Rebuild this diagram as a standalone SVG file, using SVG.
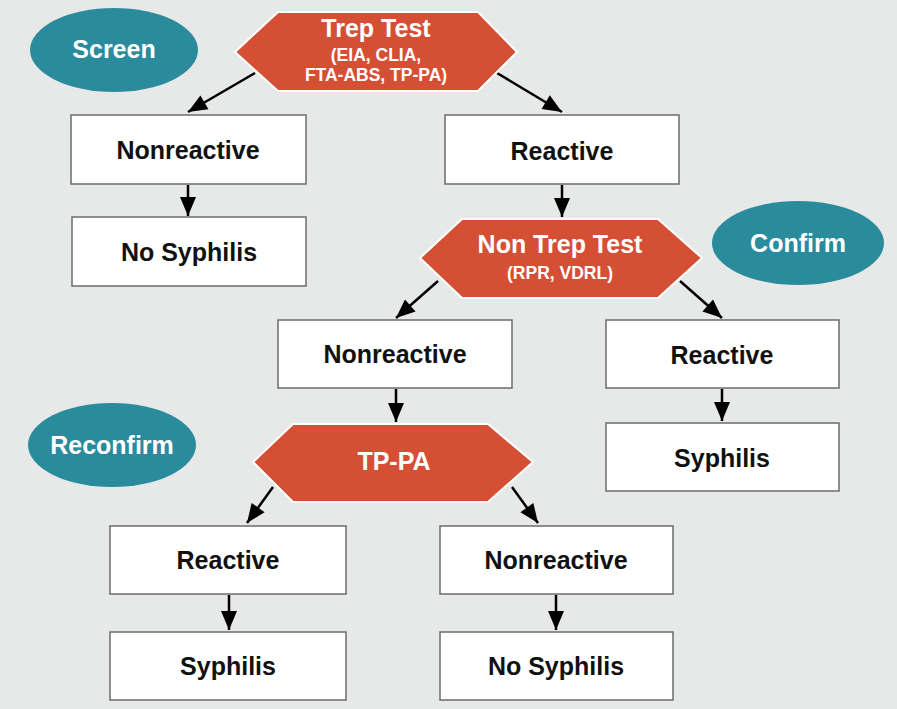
<svg xmlns="http://www.w3.org/2000/svg" width="897" height="709" viewBox="0 0 897 709">
<style>
.bg{fill:#e7e8e8}
.hex{fill:#d54f35;stroke:#ffffff;stroke-width:2}
.ell{fill:#2a8b9d}
.box{fill:#ffffff;stroke:#6b6b6b;stroke-width:1.5}
.wt{fill:#ffffff;font-family:"Liberation Sans",Arial,sans-serif;font-weight:bold;text-anchor:middle}
.bt{fill:#111111;font-family:"Liberation Sans",Arial,sans-serif;font-weight:bold;text-anchor:middle;font-size:25px}
.big{font-size:25px}
.sm{font-size:17.5px}
.conn line{stroke:#000;stroke-width:2.5;marker-end:url(#ah)}
</style>
<defs>
<marker id="ah" markerUnits="userSpaceOnUse" markerWidth="22" markerHeight="22" viewBox="0 0 22 22" refX="20" refY="11" orient="auto">
<path d="M1,3 L20,11 L1,19 Z" fill="#000"/>
</marker>
</defs>
<rect class="bg" x="0" y="0" width="897" height="709"/>

<g class="conn">
<line x1="255" y1="73" x2="188" y2="112"/>
<line x1="497" y1="73" x2="562" y2="112"/>
<line x1="188" y1="185" x2="188" y2="216"/>
<line x1="562" y1="185" x2="562" y2="217"/>
<line x1="438" y1="281" x2="396" y2="318"/>
<line x1="680" y1="281" x2="722" y2="318"/>
<line x1="396" y1="389" x2="396" y2="422"/>
<line x1="722" y1="389" x2="722" y2="421"/>
<line x1="273" y1="487" x2="247" y2="523"/>
<line x1="512" y1="487" x2="538" y2="523"/>
<line x1="229" y1="595" x2="229" y2="630"/>
<line x1="556" y1="595" x2="556" y2="630"/>
</g>

<g id="screen"><ellipse class="ell" cx="114" cy="50" rx="84" ry="42"/><text class="wt big" x="114" y="58">Screen</text></g>
<g id="confirm"><ellipse class="ell" cx="798" cy="243" rx="86" ry="42"/><text class="wt big" x="798" y="252">Confirm</text></g>
<g id="reconfirm"><ellipse class="ell" cx="112" cy="445" rx="84" ry="42"/><text class="wt big" x="112" y="454">Reconfirm</text></g>

<g id="trep"><polygon class="hex" points="235,52 278,12 478,12 517,52 478,91 278,91"/>
<text class="wt big" x="376" y="37">Trep Test</text>
<text class="wt sm" x="376" y="61">(EIA, CLIA,</text>
<text class="wt sm" x="376" y="81">FTA-ABS, TP-PA)</text></g>

<g id="nontrep"><polygon class="hex" points="420,258 462,219 658,219 702,258 658,298 462,298"/>
<text class="wt big" x="560" y="253">Non Trep Test</text>
<text class="wt sm" x="560" y="279">(RPR, VDRL)</text></g>

<g id="tppa"><polygon class="hex" points="253,462 293,424 488,424 533,462 488,502 293,502"/>
<text class="wt big" x="394" y="470">TP-PA</text></g>

<g id="nr1"><rect class="box" x="71" y="115" width="235" height="69"/><text class="bt" x="188" y="159">Nonreactive</text></g>
<g id="ns1"><rect class="box" x="72" y="217" width="234" height="69"/><text class="bt" x="189" y="261">No Syphilis</text></g>
<g id="r1"><rect class="box" x="445" y="115" width="234" height="69"/><text class="bt" x="562" y="160">Reactive</text></g>
<g id="nr2"><rect class="box" x="278" y="320" width="234" height="68"/><text class="bt" x="395" y="363">Nonreactive</text></g>
<g id="r2"><rect class="box" x="606" y="320" width="233" height="68"/><text class="bt" x="722" y="364">Reactive</text></g>
<g id="s2"><rect class="box" x="606" y="423" width="233" height="68"/><text class="bt" x="722" y="467">Syphilis</text></g>
<g id="r3"><rect class="box" x="110" y="526" width="236" height="68"/><text class="bt" x="228" y="569">Reactive</text></g>
<g id="nr3"><rect class="box" x="440" y="526" width="233" height="68"/><text class="bt" x="556" y="569">Nonreactive</text></g>
<g id="s3"><rect class="box" x="110" y="632" width="236" height="68"/><text class="bt" x="228" y="675">Syphilis</text></g>
<g id="ns3"><rect class="box" x="440" y="632" width="233" height="68"/><text class="bt" x="556" y="675">No Syphilis</text></g>
</svg>
